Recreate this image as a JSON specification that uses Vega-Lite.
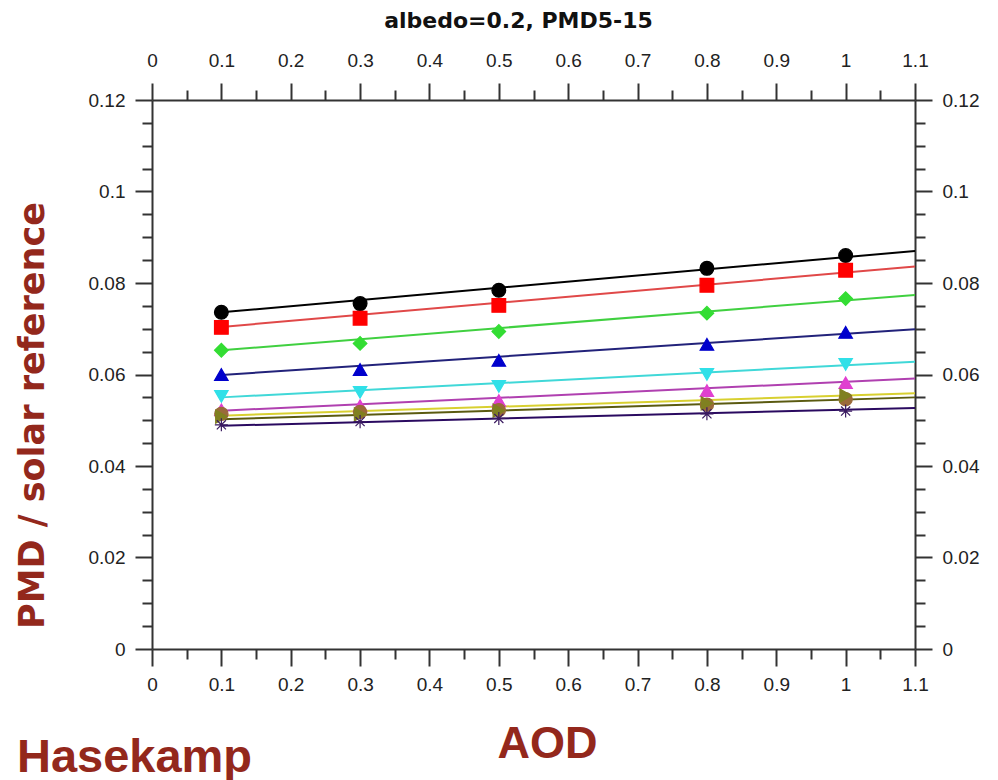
{
  "$schema": "https://vega.github.io/schema/vega-lite/v6.json",
  "autosize": "none",
  "width": 763,
  "height": 549,
  "padding": {"left": 152, "top": 100, "right": 83, "bottom": 131},
  "background": "white",
  "view": {"stroke": null},
  "config": {
    "axis": {
      "grid": false,
      "labelFont": "Liberation Sans",
      "labelFontSize": 19,
      "labelColor": "#222222",
      "domainColor": "#333333",
      "domainWidth": 2,
      "tickColor": "#333333",
      "tickWidth": 2,
      "labelFlush": false,
      "labelOverlap": false,
      "titleColor": "#93281c"
    }
  },
  "datasets": {
    "pts": [
      {"aod": 0.1, "v": 0.0736, "s": "s1"}, {"aod": 0.3, "v": 0.0755, "s": "s1"}, {"aod": 0.5, "v": 0.0784, "s": "s1"}, {"aod": 0.8, "v": 0.0832, "s": "s1"}, {"aod": 1.0, "v": 0.0860, "s": "s1"},
      {"aod": 0.1, "v": 0.0703, "s": "s2"}, {"aod": 0.3, "v": 0.0723, "s": "s2"}, {"aod": 0.5, "v": 0.0751, "s": "s2"}, {"aod": 0.8, "v": 0.0795, "s": "s2"}, {"aod": 1.0, "v": 0.0828, "s": "s2"},
      {"aod": 0.1, "v": 0.0653, "s": "s3"}, {"aod": 0.3, "v": 0.0668, "s": "s3"}, {"aod": 0.5, "v": 0.0694, "s": "s3"}, {"aod": 0.8, "v": 0.0734, "s": "s3"}, {"aod": 1.0, "v": 0.0766, "s": "s3"},
      {"aod": 0.1, "v": 0.0600, "s": "s4"}, {"aod": 0.3, "v": 0.0611, "s": "s4"}, {"aod": 0.5, "v": 0.0631, "s": "s4"}, {"aod": 0.8, "v": 0.0666, "s": "s4"}, {"aod": 1.0, "v": 0.0692, "s": "s4"},
      {"aod": 0.1, "v": 0.0552, "s": "s5"}, {"aod": 0.3, "v": 0.0561, "s": "s5"}, {"aod": 0.5, "v": 0.0574, "s": "s5"}, {"aod": 0.8, "v": 0.0600, "s": "s5"}, {"aod": 1.0, "v": 0.0622, "s": "s5"},
      {"aod": 0.1, "v": 0.0523, "s": "s6"}, {"aod": 0.3, "v": 0.0532, "s": "s6"}, {"aod": 0.5, "v": 0.0543, "s": "s6"}, {"aod": 0.8, "v": 0.0565, "s": "s6"}, {"aod": 1.0, "v": 0.0582, "s": "s6"},
      {"aod": 0.1, "v": 0.0514, "s": "s7"}, {"aod": 0.3, "v": 0.0518, "s": "s7"}, {"aod": 0.5, "v": 0.0522, "s": "s7"}, {"aod": 0.8, "v": 0.0534, "s": "s7"}, {"aod": 1.0, "v": 0.0546, "s": "s7"},
      {"aod": 0.1, "v": 0.0508, "s": "s8"}, {"aod": 0.3, "v": 0.0513, "s": "s8"}, {"aod": 0.5, "v": 0.0521, "s": "s8"}, {"aod": 0.8, "v": 0.0537, "s": "s8"}, {"aod": 1.0, "v": 0.0554, "s": "s8"},
      {"aod": 0.1, "v": 0.0490, "s": "s9"}, {"aod": 0.3, "v": 0.0497, "s": "s9"}, {"aod": 0.5, "v": 0.0504, "s": "s9"}, {"aod": 0.8, "v": 0.0514, "s": "s9"}, {"aod": 1.0, "v": 0.0520, "s": "s9"}
    ],
    "fit": [
      {"aod": 0.1, "v": 0.0736, "s": "s1"}, {"aod": 1.1, "v": 0.0870, "s": "s1"},
      {"aod": 0.1, "v": 0.0704, "s": "s2"}, {"aod": 1.1, "v": 0.0836, "s": "s2"},
      {"aod": 0.1, "v": 0.0653, "s": "s3"}, {"aod": 1.1, "v": 0.0774, "s": "s3"},
      {"aod": 0.1, "v": 0.0599, "s": "s4"}, {"aod": 1.1, "v": 0.0699, "s": "s4"},
      {"aod": 0.1, "v": 0.0550, "s": "s5"}, {"aod": 1.1, "v": 0.0628, "s": "s5"},
      {"aod": 0.1, "v": 0.0521, "s": "s6"}, {"aod": 1.1, "v": 0.0591, "s": "s6"},
      {"aod": 0.1, "v": 0.0510, "s": "s7"}, {"aod": 1.1, "v": 0.0559, "s": "s7"},
      {"aod": 0.1, "v": 0.0502, "s": "s8"}, {"aod": 1.1, "v": 0.0550, "s": "s8"},
      {"aod": 0.1, "v": 0.0488, "s": "s9"}, {"aod": 1.1, "v": 0.0527, "s": "s9"}
    ]
  },
  "resolve": {"axis": {"x": "independent", "y": "independent"}},
  "layer": [
    {
      "data": {"name": "fit"},
      "mark": {"type": "line", "strokeWidth": 2},
      "encoding": {
        "x": {"field": "aod", "type": "quantitative", "scale": {"domain": [0, 1.1], "nice": false, "zero": false},
          "axis": {"orient": "bottom", "values": [0, 0.1, 0.2, 0.3, 0.4, 0.5, 0.6, 0.7, 0.8, 0.9, 1, 1.1], "format": ".2~f", "tickSize": 17, "labelPadding": 9, "labelBaseline": "top",
            "title": "AOD", "titleFont": "Liberation Sans", "titleFontSize": 45, "titleFontWeight": "bold", "titleX": 395, "titleY": 108, "titleAnchor": null, "titleAlign": "center", "titleBaseline": "alphabetic"}},
        "y": {"field": "v", "type": "quantitative", "scale": {"domain": [0, 0.12], "nice": false},
          "axis": {"orient": "left", "values": [0, 0.02, 0.04, 0.06, 0.08, 0.1, 0.12], "format": ".2~f", "tickSize": 17, "labelPadding": 10,
            "title": "PMD / solar reference", "titleFont": "DejaVu Sans", "titleFontSize": 35, "titleFontWeight": "bold", "titleAngle": 270, "titleX": -109, "titleY": 315, "titleAlign": "center", "titleBaseline": "alphabetic"}},
        "color": {"field": "s", "type": "nominal", "legend": null,
          "scale": {"domain": ["s1", "s2", "s3", "s4", "s5", "s6", "s7", "s8", "s9"],
            "range": ["#000000", "#e04848", "#40d040", "#22227a", "#40d8d8", "#b040b0", "#d8d030", "#5a5a10", "#2a0a60"]}},
        "detail": {"field": "s"}
      }
    },
    {
      "data": {"name": "pts"},
      "mark": {"type": "point", "filled": true, "opacity": 1, "strokeWidth": 1.2},
      "encoding": {
        "x": {"field": "aod", "type": "quantitative",
          "axis": {"orient": "top", "values": [0, 0.1, 0.2, 0.3, 0.4, 0.5, 0.6, 0.7, 0.8, 0.9, 1, 1.1], "format": ".2~f", "tickSize": 17, "labelPadding": 13,
            "title": "albedo=0.2, PMD5-15", "titleColor": "#111111", "titleFont": "DejaVu Sans", "titleFontSize": 22, "titleFontWeight": "bold", "titleX": 366, "titleY": -73, "titleAlign": "center", "titleBaseline": "alphabetic"}},
        "y": {"field": "v", "type": "quantitative",
          "axis": {"orient": "right", "values": [0, 0.02, 0.04, 0.06, 0.08, 0.1, 0.12], "format": ".2~f", "tickSize": 17, "labelPadding": 10, "title": null}},
        "shape": {"field": "s", "type": "nominal", "legend": null,
          "scale": {"domain": ["s1", "s2", "s3", "s4", "s5", "s6", "s7", "s8", "s9"],
            "range": ["circle", "square", "diamond", "triangle-up", "triangle-down", "triangle-up", "circle", "triangle-right", "M-1,0L1,0M0,-1L0,1M-0.7,-0.7L0.7,0.7M-0.7,0.7L0.7,-0.7"]}},
        "size": {"field": "s", "type": "nominal", "legend": null,
          "scale": {"domain": ["s1", "s2", "s3", "s4", "s5", "s6", "s7", "s8", "s9"],
            "range": [190, 170, 110, 120, 120, 110, 70, 110, 90]}},
        "fill": {"field": "s", "type": "nominal", "legend": null,
          "scale": {"domain": ["s1", "s2", "s3", "s4", "s5", "s6", "s7", "s8", "s9"],
            "range": ["#000000", "#ff0000", "#33dd33", "#0000cc", "#30e0e8", "#e040d0", "#9a6a3a", "#808020", "#3a1a60"]}},
        "stroke": {"field": "s", "type": "nominal", "legend": null,
          "scale": {"domain": ["s1", "s2", "s3", "s4", "s5", "s6", "s7", "s8", "s9"],
            "range": ["#000000", "#ff0000", "#33dd33", "#0000cc", "#30e0e8", "#e040d0", "#9a6a3a", "#808020", "#3a1a60"]}}
      }
    },
    {
      "data": {"name": "pts"},
      "mark": {"type": "point", "opacity": 0},
      "encoding": {
        "x": {"field": "aod", "type": "quantitative",
          "axis": {"orient": "bottom", "values": [0.05, 0.15, 0.25, 0.35, 0.45, 0.55, 0.65, 0.75, 0.85, 0.95, 1.05], "labels": false, "domain": false, "tickSize": 10,
            "title": "Hasekamp", "titleFont": "Liberation Sans", "titleFontSize": 47, "titleFontWeight": "bold", "titleX": -18, "titleY": 122, "titleAlign": "center", "titleBaseline": "alphabetic"}},
        "y": {"field": "v", "type": "quantitative",
          "axis": {"orient": "left", "values": [0.005, 0.01, 0.015, 0.025, 0.03, 0.035, 0.045, 0.05, 0.055, 0.065, 0.07, 0.075, 0.085, 0.09, 0.095, 0.105, 0.11, 0.115], "labels": false, "domain": false, "tickSize": 10, "title": null}}
      }
    },
    {
      "data": {"name": "pts"},
      "mark": {"type": "point", "opacity": 0},
      "encoding": {
        "x": {"field": "aod", "type": "quantitative",
          "axis": {"orient": "top", "values": [0.05, 0.15, 0.25, 0.35, 0.45, 0.55, 0.65, 0.75, 0.85, 0.95, 1.05], "labels": false, "domain": false, "tickSize": 10, "title": null}},
        "y": {"field": "v", "type": "quantitative",
          "axis": {"orient": "right", "values": [0.005, 0.01, 0.015, 0.025, 0.03, 0.035, 0.045, 0.05, 0.055, 0.065, 0.07, 0.075, 0.085, 0.09, 0.095, 0.105, 0.11, 0.115], "labels": false, "domain": false, "tickSize": 10, "title": null}}
      }
    }
  ]
}
